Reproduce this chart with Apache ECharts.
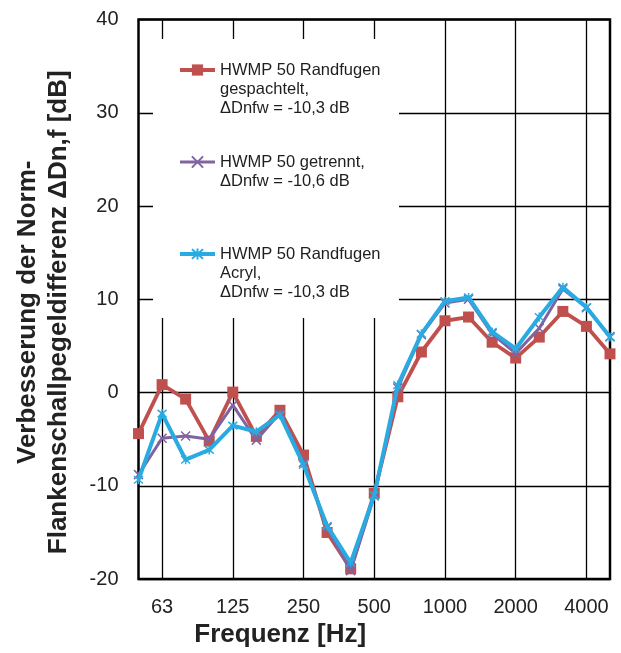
<!DOCTYPE html>
<html>
<head>
<meta charset="utf-8">
<script src="https://cdn.jsdelivr.net/npm/echarts@6/dist/echarts.min.js"></script>
<style>html,body{margin:0;padding:0;background:#fff;}#c{width:621px;height:653px;}</style>
</head>
<body>
<div id="c"></div>
<script>
var freqs = ['50','63','80','100','125','160','200','250','315','400','500','630','800','1000','1250','1600','2000','2500','3150','4000','5000'];
var tickLabels = ['63','125','250','500','1000','2000','4000'];
var yTicks = { min: -20, max: 40, interval: 10 };

var names = [
  'HWMP 50 Randfugen\ngespachtelt,\n\u0394Dnfw = -10,3 dB',
  'HWMP 50 getrennt,\n\u0394Dnfw = -10,6 dB',
  'HWMP 50 Randfugen\nAcryl,\n\u0394Dnfw = -10,3 dB'
];
var gespachtelt = [-4.4, 0.85, -0.7, -5.2, 0.05, -4.7, -1.9, -6.7, -15.0, -18.9, -10.8, -0.45, 4.35, 7.7, 8.1, 5.4, 3.7, 5.95, 8.7, 7.1, 4.15];
var getrennt = [-8.8, -4.9, -4.65, -5.0, -1.35, -5.1, -2.2, -7.5, -14.5, -19.1, -11.1, 0.5, 6.2, 9.6, 10.0, 6.3, 4.2, 6.9, 11.1, 9.1, 6.0];
var acryl = [-9.35, -2.25, -7.2, -6.15, -3.55, -4.2, -2.4, -7.75, -14.3, -18.25, -11.0, 0.8, 6.3, 9.8, 10.2, 6.5, 4.7, 8.1, 11.3, 9.15, 5.95];

var colors = ['#c0504d', '#8064a2', '#29abe2'];
var widths = [3.8, 3, 4];

var showIdx = function (idx) { return tickLabels.indexOf(freqs[idx]) >= 0; };

// pad legend names so the icon sits on the first line
function legendText(name) {
  var n = name.split('\n').length;
  var pre = '';
  for (var i = 0; i < n - 1; i++) pre += '\n';
  return pre + name;
}

var chart = echarts.init(document.getElementById('c'), null, { renderer: 'canvas' });
chart.setOption({
  animation: false,
  backgroundColor: '#fff',
  textStyle: { fontFamily: 'Liberation Sans, Arial, sans-serif' },
  grid: { left: 138.5, right: 11, top: 19.5, bottom: 71.5, show: true, borderColor: '#000', borderWidth: 2.5, backgroundColor: 'transparent', containLabel: false },
  graphic: [{ type: 'rect', z: 1, zlevel: 0, shape: { x: 153, y: 39, width: 246, height: 279 }, style: { fill: '#fff' }, silent: true }],
  legend: {
    orient: 'vertical', left: 178, top: 22.5, padding: 0, itemGap: 16,
    itemWidth: 35, itemHeight: 14,
    formatter: legendText,
    textStyle: { fontSize: 16.5, lineHeight: 19, color: '#1e1e1e', fontFamily: 'Liberation Sans, Arial, sans-serif' },
    data: names.map(function (n, i) { return { name: n, lineStyle: { width: widths[i], color: colors[i] } }; })
  },
  xAxis: {
    type: 'category', data: freqs, boundaryGap: false,
    axisLine: { show: false }, axisTick: { show: false },
    axisLabel: { interval: showIdx, fontSize: 20, color: '#222', margin: 18 },
    splitLine: { show: true, interval: showIdx, lineStyle: { color: '#000', width: 1.3 } },
    name: 'Frequenz [Hz]', nameLocation: 'middle', nameGap: 42,
    nameTextStyle: { fontSize: 26, fontWeight: 'bold', color: '#222', padding: [0, 188, 0, 0] }
  },
  yAxis: {
    type: 'value', min: yTicks.min, max: yTicks.max, interval: yTicks.interval,
    axisLine: { show: false }, axisTick: { show: false },
    axisLabel: { fontSize: 20, color: '#222', margin: 20 },
    splitLine: { show: true, lineStyle: { color: '#000', width: 1.3 } },
    name: 'Verbesserung der Norm-\nFlankenschallpegeldifferenz \u0394Dn,f [dB]',
    nameLocation: 'middle', nameRotate: 90, nameGap: 64,
    nameTextStyle: { fontSize: 26, fontWeight: 'bold', color: '#222', lineHeight: 31, padding: [0, 26, 0, 0] }
  },
  series: [
    {
      name: names[0], type: 'line', data: gespachtelt, z: 2,
      symbol: 'rect', symbolSize: 11,
      lineStyle: { color: colors[0], width: widths[0] },
      itemStyle: { color: colors[0] }
    },
    {
      name: names[1], type: 'line', data: getrennt, z: 3,
      symbol: 'path://M0,0L10,10M10,0L0,10', symbolSize: 9,
      lineStyle: { color: colors[1], width: widths[1] },
      itemStyle: { color: 'rgba(0,0,0,0)', borderColor: colors[1], borderWidth: 1.5 }
    },
    {
      name: names[2], type: 'line', data: acryl, z: 4,
      symbol: 'path://M0,0L10,10M10,0L0,10M5,-1L5,11', symbolSize: 9,
      lineStyle: { color: colors[2], width: widths[2] },
      itemStyle: { color: 'rgba(0,0,0,0)', borderColor: colors[2], borderWidth: 1.5 }
    }
  ]
});
</script>
</body>
</html>
